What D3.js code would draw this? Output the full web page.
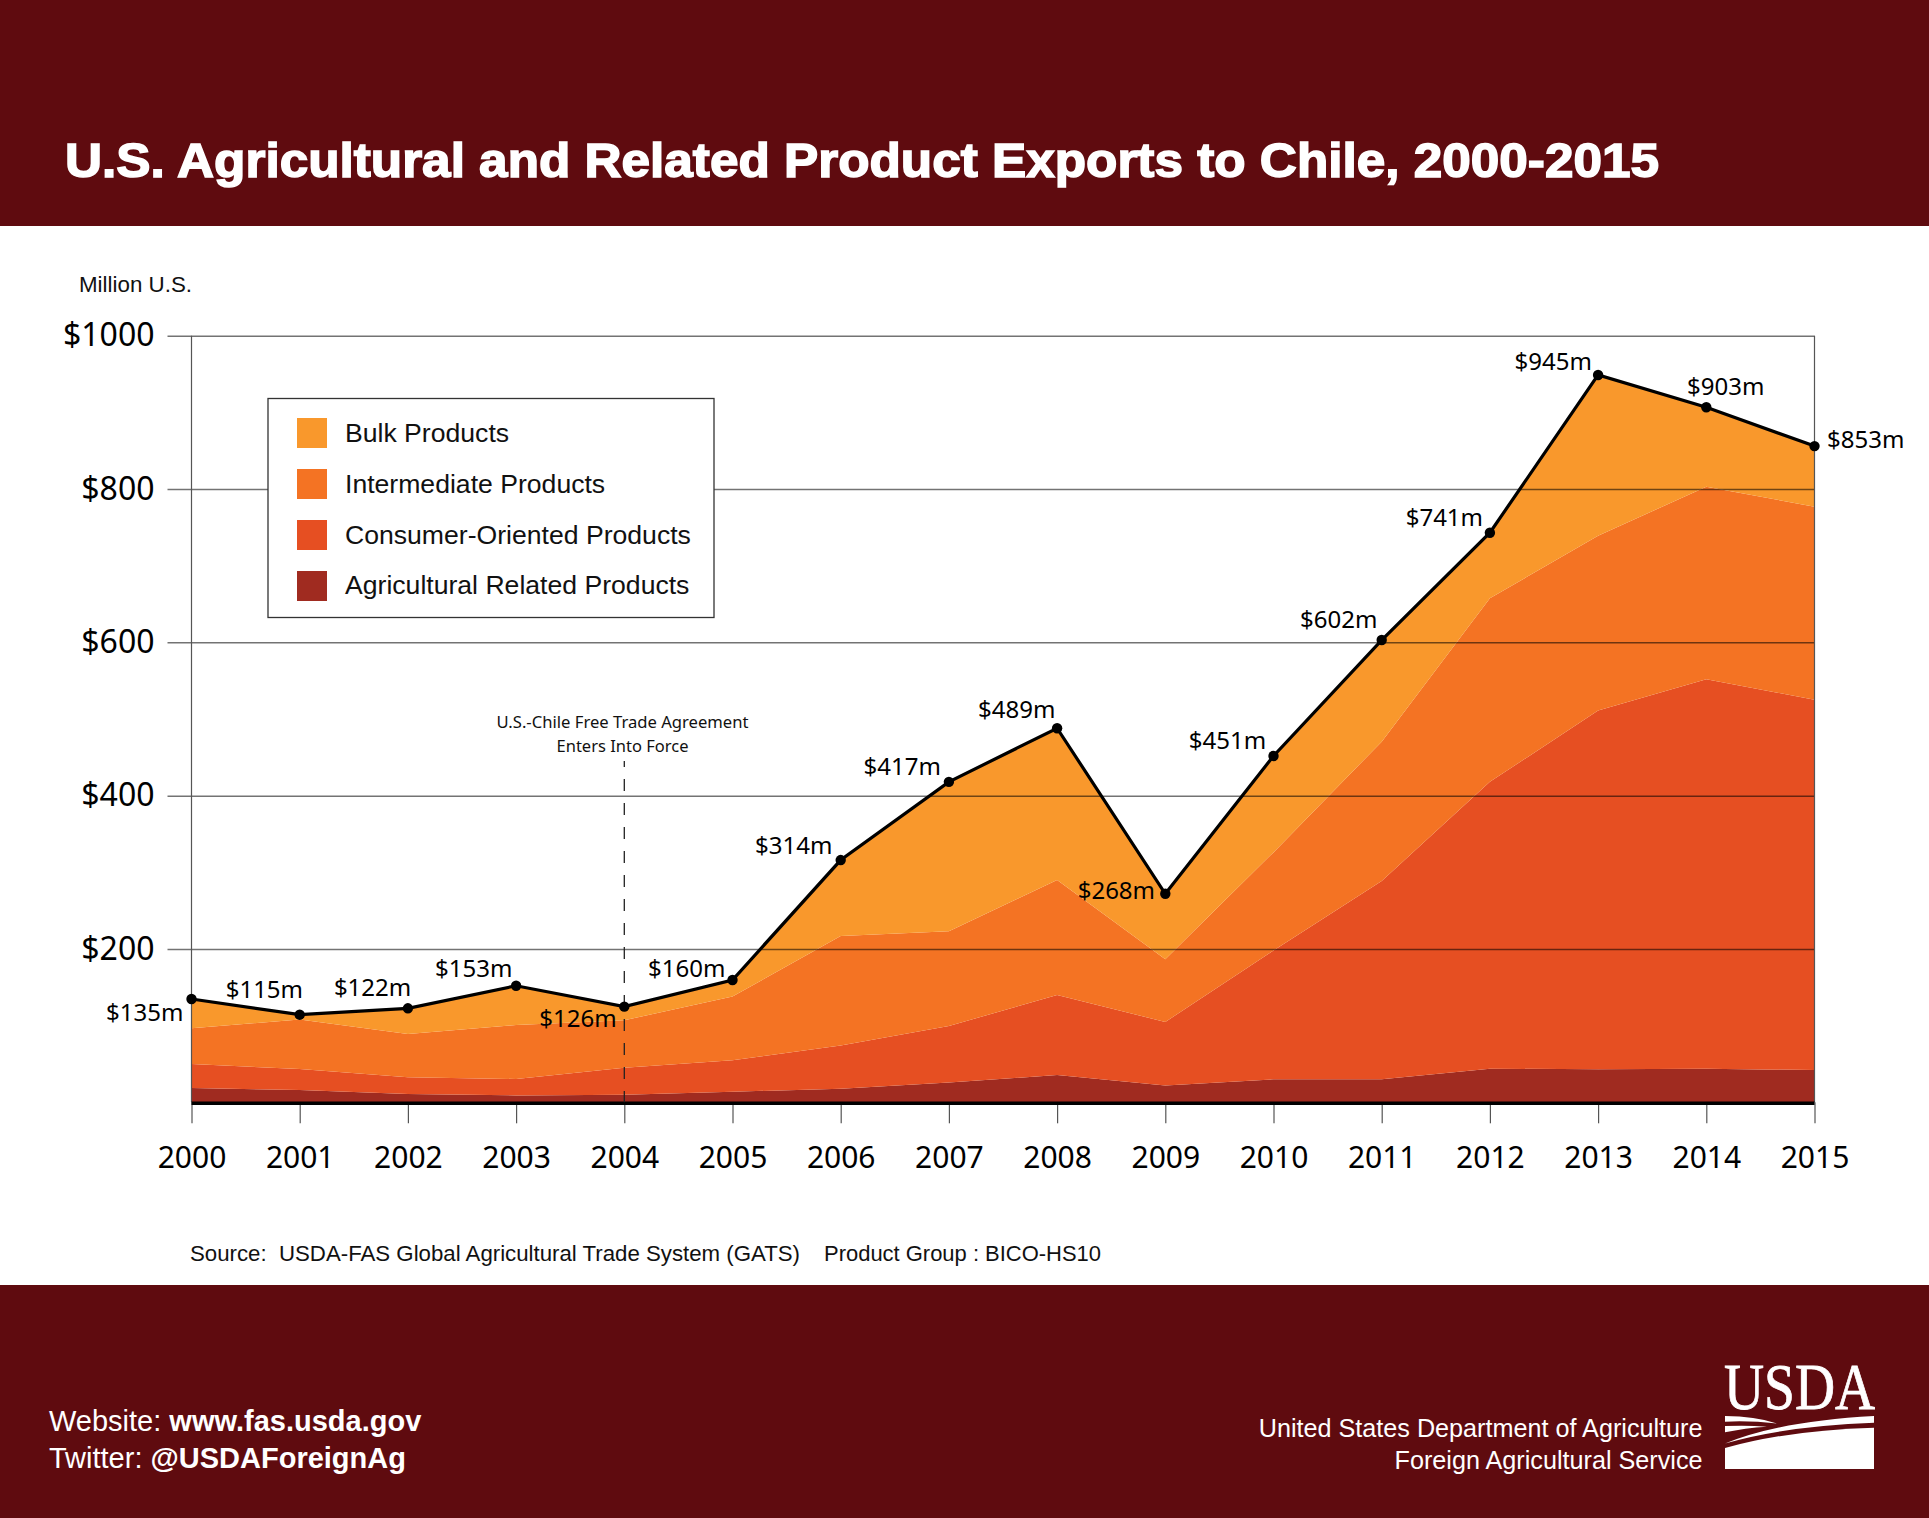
<!DOCTYPE html>
<html>
<head>
<meta charset="utf-8">
<title>U.S. Agricultural and Related Product Exports to Chile, 2000-2015</title>
<script src="https://cdn.jsdelivr.net/npm/d3@7"></script>
<style>
  html, body { margin: 0; padding: 0; background: #fff; }
  svg { display: block; }
</style>
</head>
<body>
<svg id="chart" width="1929" height="1518"></svg>
<script>
// ----------------------------------------
// Data
// ----------------------------------------

const years = [2000, 2001, 2002, 2003, 2004, 2005, 2006, 2007, 2008, 2009, 2010, 2011, 2012, 2013, 2014, 2015];

const agRelated = [18.6, 16, 10.8, 9, 10, 13.8, 17.7, 25.7, 35.5, 22, 30, 30, 43.9, 43, 43.9, 42];
const consumerOriented = [31.4, 27.4, 21.8, 21.4, 35, 41, 56.3, 73.8, 104.5, 82.8, 168, 258.7, 374.1, 468, 508.1, 483];
const intermediate = [46.5, 64.6, 56.4, 70.4, 62, 83.2, 143, 123.5, 150, 81.7, 128, 181.7, 239.5, 228, 251, 252];
const bulk = [38.3, 6.3, 33.6, 51.2, 17.8, 21.6, 99, 195, 198, 85.5, 125.8, 132.6, 85.5, 209.8, 103.7, 79];

// printed labels (slightly off the plotted tops in the original)
const totalLabels = [135, 115, 122, 153, 126, 160, 314, 417, 489, 268, 451, 602, 741, 945, 903, 853];

const yTicks = [200, 400, 600, 800, 1000];

const legendNames = ["Bulk Products", "Intermediate Products", "Consumer-Oriented Products", "Agricultural Related Products"];
const seriesKeys = ["ag", "consumer", "intermediate", "bulk"];

// ----------------------------------------
// Layout and colours
// ----------------------------------------

const maroon = "#5f0b0f";
const seriesColors = { ag: "#a02b20", consumer: "#e64f22", intermediate: "#f47323", bulk: "#f9982c" };
const legendColors = [seriesColors.bulk, seriesColors.intermediate, seriesColors.consumer, seriesColors.ag];

const sans = "'Liberation Sans', Arial, sans-serif";
const axisFont = "'Noto Sans', sans-serif";

// label offset from its point: left edge dx, baseline dy
const labelNudge = [
    [-85.5, 22], [-74, -16.7], [-74, -12.6], [-81, -9], [-85, 20], [-84.5, -3.3], [-85.7, -6], [-85.3, -7],
    [-79, -10], [-87.6, 5], [-84.7, -7], [-81.7, -11.7], [-84.2, -7], [-83.5, -5], [-19.3, -12.3], [12.5, 1.7]
];

const x = d3.scaleLinear().domain([2000, 2015]).range([191.5, 1814.5]);
const y = d3.scaleLinear().domain([0, 1000]).range([1102.3, 335.7]);

const svg = d3.select("#chart");

// ----------------------------------------
// Bands
// ----------------------------------------

svg.append("rect").attr("width", 1929).attr("height", 226).attr("fill", maroon);
svg.append("rect").attr("y", 1285).attr("width", 1929).attr("height", 233).attr("fill", maroon);

svg.append("text")
    .attr("x", 65).attr("y", 176.5)
    .attr("font-family", sans).attr("font-weight", 700).attr("font-size", 47.5)
    .attr("fill", "#fff").attr("stroke", "#fff").attr("stroke-width", 1.5)
    .attr("textLength", 1594).attr("lengthAdjust", "spacingAndGlyphs")
    .text("U.S. Agricultural and Related Product Exports to Chile, 2000-2015");

svg.append("text")
    .attr("x", 79).attr("y", 292)
    .attr("font-family", sans).attr("font-size", 21.5).attr("fill", "#111")
    .attr("textLength", 113).attr("lengthAdjust", "spacingAndGlyphs")
    .text("Million U.S.");

// ----------------------------------------
// Stacked areas
// ----------------------------------------

const rows = years.map((year, i) => ({
    year: year,
    ag: agRelated[i],
    consumer: consumerOriented[i],
    intermediate: intermediate[i],
    bulk: bulk[i]
}));

const stacked = d3.stack().keys(seriesKeys)(rows);

const area = d3.area()
    .x(d => x(d.data.year))
    .y0(d => y(d[0]))
    .y1(d => y(d[1]));

svg.append("g").selectAll("path")
    .data(stacked)
    .join("path")
    .attr("d", area)
    .attr("fill", d => seriesColors[d.key]);

// ----------------------------------------
// Axes and grid
// ----------------------------------------

const yAxis = svg.append("g")
    .attr("transform", `translate(${x(2000)},0)`)
    .call(d3.axisLeft(y).tickValues(yTicks).tickFormat(d => "$" + d).tickSize(0).tickPadding(37));

yAxis.select(".domain").remove();
yAxis.selectAll("text")
    .attr("font-family", axisFont).attr("font-size", 32).attr("fill", "#000");
yAxis.selectAll(".tick line")
    .attr("x1", -24).attr("x2", x(2015) - x(2000))
    .attr("stroke", "#000").attr("stroke-opacity", 0.55).attr("stroke-width", 1.5);

const xAxis = svg.append("g")
    .attr("transform", `translate(0,${y(0)})`)
    .call(d3.axisBottom(x).tickValues(years).tickFormat(d3.format("d")).tickSize(21).tickPadding(23));

xAxis.select(".domain").remove();
xAxis.selectAll("text")
    .attr("font-family", axisFont).attr("font-size", 30).attr("fill", "#000");
xAxis.selectAll(".tick line").attr("stroke", "#555").attr("stroke-width", 1.2);

svg.append("line")
    .attr("x1", x(2000)).attr("x2", x(2000)).attr("y1", y(1000)).attr("y2", y(0))
    .attr("stroke", "#555").attr("stroke-width", 1.2);
svg.append("line")
    .attr("x1", x(2015)).attr("x2", x(2015)).attr("y1", y(1000)).attr("y2", y(0))
    .attr("stroke", "#555").attr("stroke-width", 1.2);

// thick baseline
svg.append("line")
    .attr("x1", x(2000)).attr("x2", x(2015)).attr("y1", y(0) + 1).attr("y2", y(0) + 1)
    .attr("stroke", "#000").attr("stroke-width", 3.6);

// ----------------------------------------
// Free trade agreement marker
// ----------------------------------------

svg.append("line")
    .attr("x1", x(2004)).attr("x2", x(2004)).attr("y1", 761).attr("y2", y(0))
    .attr("stroke", "#222").attr("stroke-width", 1.3)
    .attr("stroke-dasharray", "12 12").attr("stroke-dashoffset", 6);

const ftaLines = ["U.S.-Chile Free Trade Agreement", "Enters Into Force"];
const ftaWidths = [252, 132];
svg.append("g").selectAll("text")
    .data(ftaLines)
    .join("text")
    .attr("x", 622.5).attr("y", (d, i) => 728 + i * 24)
    .attr("text-anchor", "middle")
    .attr("font-family", axisFont).attr("font-size", 17).attr("fill", "#111")
    .attr("textLength", (d, i) => ftaWidths[i]).attr("lengthAdjust", "spacingAndGlyphs")
    .text(d => d);

// ----------------------------------------
// Total line, points, labels
// ----------------------------------------

const totalLayer = stacked[stacked.length - 1];

const line = d3.line()
    .x(d => x(d.data.year))
    .y(d => y(d[1]));

svg.append("path")
    .attr("d", line(totalLayer))
    .attr("fill", "none").attr("stroke", "#000").attr("stroke-width", 3.2);

svg.append("g").selectAll("circle")
    .data(totalLayer)
    .join("circle")
    .attr("cx", d => x(d.data.year))
    .attr("cy", d => y(d[1]))
    .attr("r", 5.2)
    .attr("fill", "#000");

svg.append("g").selectAll("text")
    .data(totalLayer)
    .join("text")
    .attr("x", (d, i) => x(d.data.year) + labelNudge[i][0])
    .attr("y", (d, i) => y(d[1]) + labelNudge[i][1])
    .attr("font-family", axisFont).attr("font-size", 24).attr("fill", "#000")
    .text((d, i) => "$" + totalLabels[i] + "m");

// ----------------------------------------
// Legend
// ----------------------------------------

const legend = svg.append("g");

legend.append("rect")
    .attr("x", 268).attr("y", 398.5).attr("width", 446).attr("height", 219)
    .attr("fill", "#fff").attr("stroke", "#333").attr("stroke-width", 1.3);

legend.selectAll("rect.swatch")
    .data(legendNames)
    .join("rect")
    .attr("class", "swatch")
    .attr("x", 297).attr("y", (d, i) => 418 + i * 51)
    .attr("width", 30).attr("height", 30)
    .attr("fill", (d, i) => legendColors[i]);

legend.selectAll("text")
    .data(legendNames)
    .join("text")
    .attr("x", 345).attr("y", (d, i) => 441.7 + i * 50.9)
    .attr("font-family", sans).attr("font-size", 26.6).attr("fill", "#111")
    .text(d => d);

// ----------------------------------------
// Source and footer
// ----------------------------------------

svg.append("text")
    .attr("x", 190).attr("y", 1261)
    .attr("font-family", sans).attr("font-size", 21.5).attr("fill", "#111")
    .attr("textLength", 610).attr("lengthAdjust", "spacingAndGlyphs")
    .attr("xml:space", "preserve")
    .text("Source:  USDA-FAS Global Agricultural Trade System (GATS)");

svg.append("text")
    .attr("x", 824).attr("y", 1261)
    .attr("font-family", sans).attr("font-size", 21.5).attr("fill", "#111")
    .attr("textLength", 277).attr("lengthAdjust", "spacingAndGlyphs")
    .text("Product Group : BICO-HS10");

const contactLines = [["Website: ", "www.fas.usda.gov"], ["Twitter: ", "@USDAForeignAg"]];
const contact = svg.append("g").selectAll("text")
    .data(contactLines)
    .join("text")
    .attr("x", 49).attr("y", (d, i) => 1431 + i * 36.5)
    .attr("font-family", sans).attr("font-size", 29).attr("fill", "#fff");
contact.append("tspan").text(d => d[0]);
contact.append("tspan").attr("font-weight", 700).text(d => d[1]);

const agencyLines = ["United States Department of Agriculture", "Foreign Agricultural Service"];
svg.append("g").selectAll("text")
    .data(agencyLines)
    .join("text")
    .attr("x", 1702.5).attr("y", (d, i) => 1436.7 + i * 32)
    .attr("text-anchor", "end")
    .attr("font-family", sans).attr("font-size", 25.2).attr("fill", "#fff")
    .text(d => d);

// USDA mark
svg.append("text")
    .attr("x", 1724).attr("y", 1409.3)
    .attr("font-family", "'Liberation Serif', serif").attr("font-size", 65)
    .attr("fill", "#fff").attr("stroke", "#fff").attr("stroke-width", 0.8)
    .attr("textLength", 151).attr("lengthAdjust", "spacingAndGlyphs")
    .text("USDA");

const logo = svg.append("g").attr("fill", "#fff");
logo.append("path").attr("d", "M1725,1448 Q1790,1430 1874,1427.7 V1469 H1725 Z");
logo.append("path").attr("d", "M1725,1443.5 Q1780,1421 1874,1416 V1422.7 Q1785,1426 1725,1443.5 Z");
logo.append("path").attr("d", "M1725,1416 Q1755,1416 1777,1423.5 Q1750,1420.5 1725,1421.7 Z");
logo.append("path").attr("d", "M1725,1426 Q1748,1425 1767,1426.7 Q1745,1428 1725,1432.3 Z");
</script>
</body>
</html>
